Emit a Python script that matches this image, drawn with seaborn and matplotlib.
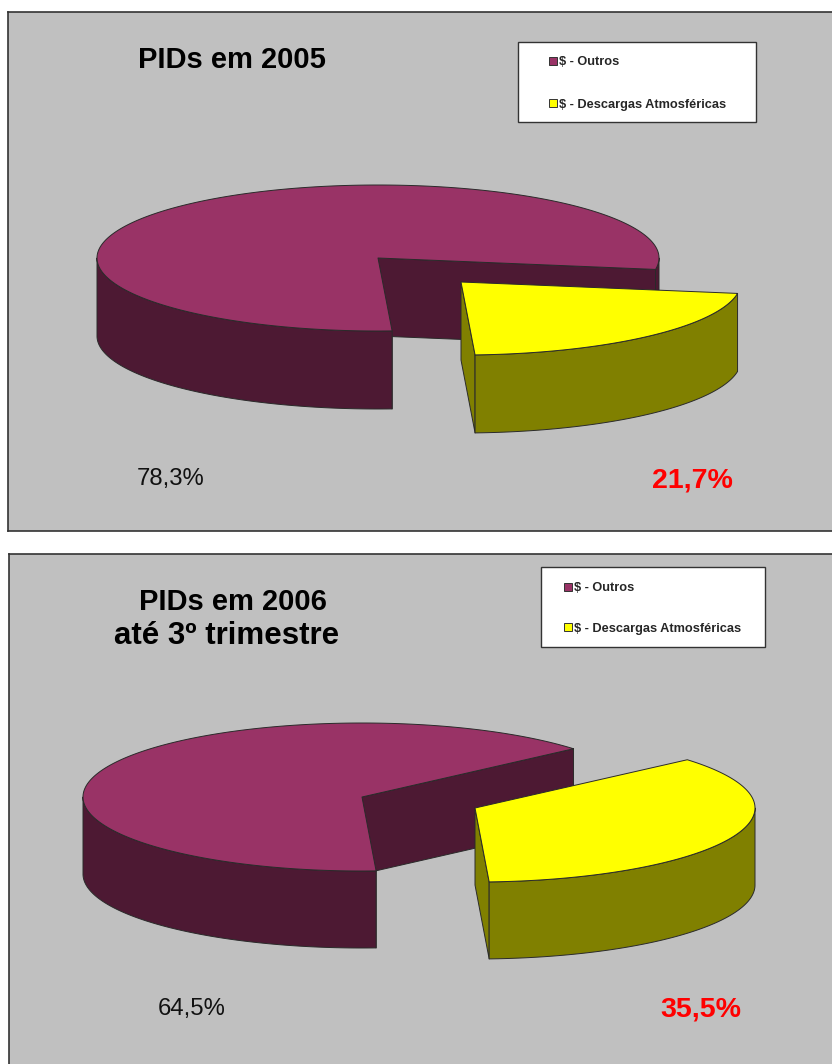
import numpy as np
import matplotlib
matplotlib.use("Agg")
import matplotlib.pyplot as plt
from matplotlib.patches import Polygon, Patch, Rectangle
import seaborn as sns

# ---- data ----
series_labels = ["$ - Outros", "$ - Descargas Atmosféricas"]
title_lines = [["PIDs em 2005"], ["PIDs em 2006", "até 3º trimestre"]]
outros_pct = [78.3, 64.5]
descargas_pct = [21.7, 35.5]
outros_text = ["78,3%", "64,5%"]
descargas_text = ["21,7%", "35,5%"]

# ---- style ----
sns.set_theme(style="white")
plt.rcParams["font.family"] = ["Liberation Sans", "DejaVu Sans"]
plt.rcParams["text.parse_math"] = False

W, H = 832, 1064
BG = "#C0C0C0"
TOP = {"o": "#993366", "d": "#FFFF00"}
SIDE = {"o": "#4D1933", "d": "#808000"}
EDGE = "#2a2a2a"

panels = [
    dict(x0=8, y0=12, x1=833, y1=531, centre=(378, 258), offset=(83, 24), a=281, a_d=280, b=73, depth=78,
         start=9.0, title_pos=[(232, 60, 21)], lab_o=(171, 479), lab_d=(692.5, 480),
         box=(518, 42, 756, 122), leg_xy=(549, 83.5), leg_space=2.38),
    dict(x0=9, y0=554, x1=833, y1=1065, centre=(362, 797), offset=(113, 11), a=279, a_d=280, b=74, depth=77,
         start=-40.7, title_pos=[(233, 602, 21), (227, 636, 22.5)], lab_o=(192, 1009), lab_d=(701, 1009.5),
         box=(541, 567, 765, 647), leg_xy=(564, 608.5), leg_space=2.2),
]


def arc(c, a, b, t0, t1):
    t = np.radians(np.linspace(t0, t1, max(int(abs(t1 - t0)) * 2, 2)))
    return np.column_stack([c[0] + a * np.cos(t), c[1] + b * np.sin(t)])


def draw_slice(ax, c, a, b, depth, t0, t1, key):
    kw = dict(edgecolor=EDGE, linewidth=0.7, joinstyle="round")
    down = np.array([0, depth])
    # cut faces
    for t in (t0, t1):
        if key == "d" and t == t0:
            continue
        p = arc(c, a, b, t, t)[0]
        q = np.array([c, p, p + down, np.array(c) + down])
        ax.add_patch(Polygon(q, closed=True, facecolor=SIDE[key], **kw))
    # visible parts of the outer wall (front half of the ellipse)
    for k in range(-1, 3):
        lo, hi = max(t0, 360 * k), min(t1, 360 * k + 180)
        if hi > lo:
            ed = arc(c, a, b, lo, hi)
            ax.add_patch(Polygon(np.vstack([ed, (ed + down)[::-1]]), closed=True,
                                 facecolor=SIDE[key], **kw))
    # top surface
    top = np.vstack([[c], arc(c, a, b, t0, t1)])
    ax.add_patch(Polygon(top, closed=True, facecolor=TOP[key], **kw))


fig = plt.figure(figsize=(W / 100, H / 100), dpi=100, facecolor="white")

for i, p in enumerate(panels):
    ax = fig.add_axes([p["x0"] / W, 1 - p["y1"] / H, (p["x1"] - p["x0"]) / W, (p["y1"] - p["y0"]) / H])
    ax.set_xlim(p["x0"], p["x1"])
    ax.set_ylim(p["y1"], p["y0"])
    ax.set_facecolor(BG)
    ax.set_xticks([])
    ax.set_yticks([])
    for s in ax.spines.values():
        s.set_color("#333333")
        s.set_linewidth(1.2)

    sweep_d = descargas_pct[i] / 100 * 360
    sweep_o = outros_pct[i] / 100 * 360
    t_start = p["start"]
    t_mid = t_start + sweep_d
    c = np.array(p["centre"], float)
    draw_slice(ax, c, p["a"], p["b"], p["depth"], t_mid, t_mid + sweep_o, "o")
    draw_slice(ax, c + p["offset"], p["a_d"], p["b"], p["depth"], t_start, t_mid, "d")

    for line, (tx, ty, ts) in zip(title_lines[i], p["title_pos"]):
        ax.text(tx, ty, line, ha="center", va="center", fontsize=ts,
                fontweight="bold", color="black")
    ax.text(*p["lab_o"], outros_text[i], ha="center", va="center", fontsize=17.2, color="#111111")
    ax.text(*p["lab_d"], descargas_text[i], ha="center", va="center", fontsize=20.5,
            fontweight="bold", color="#FF0000")

    bx0, by0, bx1, by1 = p["box"]
    ax.add_patch(Rectangle((bx0, by0), bx1 - bx0, by1 - by0, facecolor="white",
                           edgecolor="#333333", linewidth=1.0, zorder=5))
    handles = [Patch(facecolor=TOP["o"], edgecolor="#333333", linewidth=0.7),
               Patch(facecolor=TOP["d"], edgecolor="#333333", linewidth=0.7)]
    leg = ax.legend(handles, series_labels, loc="center left",
                    bbox_to_anchor=p["leg_xy"], bbox_transform=ax.transData,
                    frameon=False, prop={"weight": "bold", "size": 9.2},
                    handlelength=0.6, handleheight=0.6, handletextpad=0.2,
                    labelspacing=p["leg_space"], borderpad=0, borderaxespad=0)
    leg.set_zorder(6)

sns.despine(fig=fig, top=False, right=True, left=False, bottom=False)
fig.savefig("out.png", dpi=100, facecolor="white")
